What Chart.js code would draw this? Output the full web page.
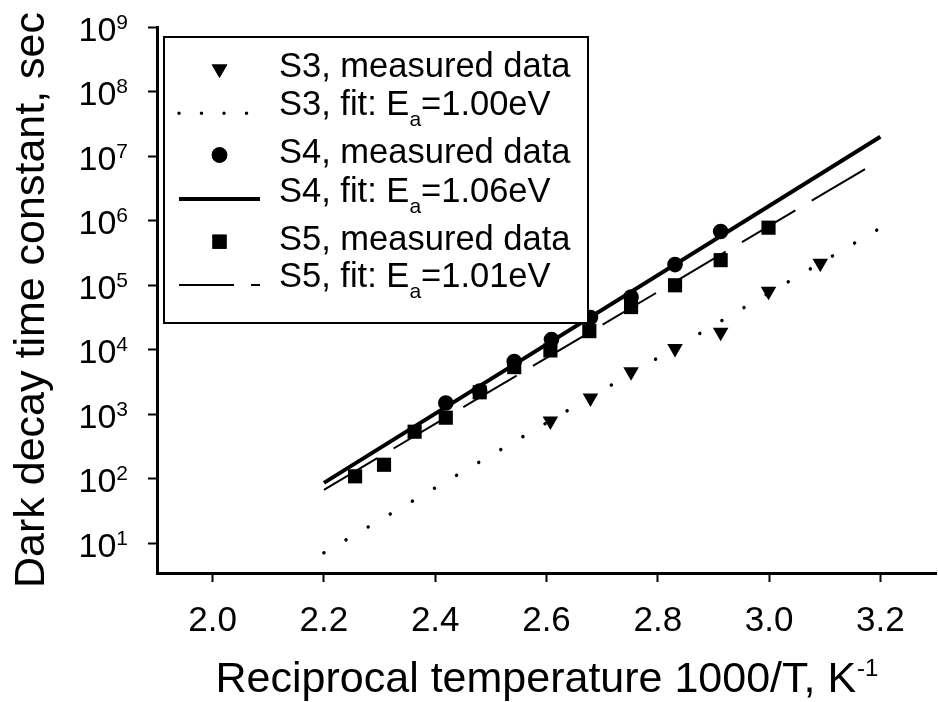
<!DOCTYPE html>
<html>
<head>
<meta charset="utf-8">
<script src="https://cdn.jsdelivr.net/npm/chart.js@4.4.0/dist/chart.umd.min.js"></script>
<style>
  html, body { margin: 0; padding: 0; background: #fff; overflow: hidden; }
  #wrap { width: 946px; height: 702px; position: relative; }
</style>
</head>
<body>
<div id="wrap"><canvas id="arrhenius"></canvas></div>
<script>
// measured dark decay time constants (x = 1000/T in 1/K, y = tau in s)
var s3X = [2.607, 2.679, 2.752, 2.831, 2.913, 2.999, 3.092];
var s3Y = [790, 1800, 4600, 10500, 18700, 81000, 220000];
var s4X = [2.419, 2.480, 2.542, 2.609, 2.679, 2.752, 2.831, 2.913];
var s4Y = [1500, 2300, 6600, 14500, 31700, 66000, 209000, 680000];
var s5X = [2.256, 2.308, 2.363, 2.419, 2.480, 2.542, 2.607, 2.677, 2.752, 2.831, 2.913, 2.999];
var s5Y = [110, 166, 540, 890, 2200, 5400, 9800, 19500, 46000, 100000, 245000, 780000];

// Arrhenius fits, end points only
var fitX = [2.2, 3.2];
var s3Fit = [7.2, 7.7e5];
var s4Fit = [87, 2.0e7];
var s5Fit = [68, 8.7e6];

var sampleNames = ['S3', 'S4', 'S5'];
var fitEa = ['1.00', '1.06', '1.01'];

var xTicks = [2.0, 2.2, 2.4, 2.6, 2.8, 3.0, 3.2];
var yExps = [1, 2, 3, 4, 5, 6, 7, 8, 9];

var FONT = '"Liberation Sans", Arial, Helvetica, sans-serif';

function pts(xs, ys) {
  return xs.map(function (x, i) { return { x: x, y: ys[i] }; });
}

var datasets = [
  { label: 'S3, measured data', data: pts(s3X, s3Y), pointStyle: 'triangle', rotation: 180,
    pointRadius: 9, backgroundColor: '#000', borderWidth: 0, order: 0 },
  { label: 'S3, fit', data: pts(fitX, s3Fit), showLine: true, pointRadius: 0, borderColor: '#000',
    borderWidth: 3.5, borderDash: [0.001, 25.6], borderCapStyle: 'round', order: 1,
    legendDash: [0.001, 22.5] },
  { label: 'S4, measured data', data: pts(s4X, s4Y), pointStyle: 'circle',
    pointRadius: 7.8, backgroundColor: '#000', borderWidth: 0, order: 0 },
  { label: 'S4, fit', data: pts(fitX, s4Fit), showLine: true, pointRadius: 0, borderColor: '#000',
    borderWidth: 4, order: 1, legendDash: [] },
  { label: 'S5, measured data', data: pts(s5X, s5Y), pointStyle: 'rect',
    pointRadius: 10, backgroundColor: '#000', borderWidth: 0, order: 0 },
  { label: 'S5, fit', data: pts(fitX, s5Fit), showLine: true, pointRadius: 0, borderColor: '#000',
    borderWidth: 2, borderDash: [62, 19], order: 1, legendDash: [55, 17] }
];

// legend, tick labels and axis titles (need sub/superscripts)
var textPlugin = {
  id: 'textPlugin',
  afterDraw: function (chart) {
    var ctx = chart.ctx;
    var xs = chart.scales.x, ys = chart.scales.y;
    ctx.save();
    ctx.fillStyle = '#000';
    ctx.textAlign = 'left';
    ctx.textBaseline = 'alphabetic';

    // x tick labels
    ctx.font = '35px ' + FONT;
    ctx.textAlign = 'center';
    xTicks.forEach(function (v) {
      ctx.fillText(v.toFixed(1), xs.getPixelForValue(v), 631);
    });

    // y tick labels 10^n
    yExps.forEach(function (e) {
      var py = ys.getPixelForValue(Math.pow(10, e));
      ctx.font = '21px ' + FONT;
      var ws = ctx.measureText(String(e)).width;
      ctx.textAlign = 'left';
      ctx.fillText(String(e), 128 - ws, py + 1.5);
      ctx.font = '34px ' + FONT;
      ctx.textAlign = 'right';
      ctx.fillText('10', 128 - ws, py + 13.5);
    });

    // x title
    ctx.textAlign = 'left';
    ctx.font = '43px ' + FONT;
    var main = 'Reciprocal temperature 1000/T, K';
    var wm = ctx.measureText(main).width;
    ctx.font = '24px ' + FONT;
    var wsup = ctx.measureText('-1').width;
    var x0 = (chart.chartArea.left + chart.chartArea.right) / 2 - (wm + wsup) / 2;
    ctx.font = '43px ' + FONT;
    ctx.fillText(main, x0, 692);
    ctx.font = '24px ' + FONT;
    ctx.fillText('-1', x0 + wm + 1, 676);

    // y title
    ctx.save();
    ctx.translate(44, (chart.chartArea.top + chart.chartArea.bottom) / 2);
    ctx.rotate(-Math.PI / 2);
    ctx.textAlign = 'center';
    ctx.font = '43px ' + FONT;
    ctx.fillText('Dark decay time constant, sec', 0, 0);
    ctx.restore();

    // legend box
    var L = 164, T = 37, R = 588, B = 323;
    ctx.fillStyle = '#fff';
    ctx.fillRect(L, T, R - L, B - T);
    ctx.strokeStyle = '#000';
    ctx.lineWidth = 2;
    ctx.strokeRect(L, T, R - L, B - T);
    ctx.fillStyle = '#000';

    var textY = [76.7, 115, 163.3, 201.7, 250, 286.7];
    var symY = [69, 113.3, 155, 199, 241.7, 285];
    chart.data.datasets.forEach(function (ds, i) {
      var k = Math.floor(i / 2);
      if (ds.showLine) {
        ctx.save();
        ctx.lineWidth = ds.borderWidth;
        ctx.lineCap = ds.borderCapStyle || 'butt';
        ctx.setLineDash(ds.legendDash);
        ctx.beginPath();
        ctx.moveTo(179, symY[i]);
        ctx.lineTo(260, symY[i]);
        ctx.stroke();
        ctx.restore();
        ctx.textAlign = 'left';
        ctx.font = '34.5px ' + FONT;
        var t1 = sampleNames[k] + ', fit: E';
        ctx.fillText(t1, 279, textY[i]);
        var w1 = ctx.measureText(t1).width;
        ctx.font = '21px ' + FONT;
        ctx.fillText('a', 279 + w1, textY[i] + 11);
        var w2 = ctx.measureText('a').width;
        ctx.font = '34.5px ' + FONT;
        ctx.fillText('=' + fitEa[k] + 'eV', 279 + w1 + w2, textY[i]);
      } else {
        Chart.helpers.drawPoint(ctx, {
          pointStyle: ds.pointStyle, rotation: ds.rotation || 0,
          radius: ds.pointRadius, borderWidth: 0
        }, 219.5, symY[i]);
        ctx.fillStyle = '#000';
        ctx.fill();
        ctx.textAlign = 'left';
        ctx.font = '34.5px ' + FONT;
        ctx.fillText(ds.label, 279, textY[i]);
      }
    });
    ctx.restore();
  }
};

var ctx = document.getElementById('arrhenius').getContext('2d');
var chart = new Chart(ctx, {
  type: 'scatter',
  data: { datasets: datasets },
  options: {
    responsive: true,
    maintainAspectRatio: false,
    animation: false,
    events: [],
    layout: { padding: { top: 27, right: 0, left: 0, bottom: 0 } },
    plugins: { legend: { display: false }, tooltip: { enabled: false } },
    scales: {
      x: {
        type: 'linear',
        min: 1.9,
        max: 3.3,
        afterBuildTicks: function (scale) {
          scale.ticks = xTicks.map(function (v) { return { value: v }; });
        },
        afterFit: function (scale) { scale.height = 129; },
        ticks: { display: false },
        grid: { drawOnChartArea: false, drawTicks: true, tickLength: 9, tickWidth: 2, tickColor: '#000' },
        border: { display: true, color: '#000', width: 3 }
      },
      y: {
        type: 'logarithmic',
        min: 3.5,
        max: 1e9,
        afterBuildTicks: function (scale) {
          scale.ticks = yExps.map(function (e) { return { value: Math.pow(10, e) }; });
        },
        afterFit: function (scale) { scale.width = 157; },
        ticks: { display: false },
        grid: { drawOnChartArea: false, drawTicks: true, tickLength: 9, tickWidth: 2, tickColor: '#000' },
        border: { display: true, color: '#000', width: 3 }
      }
    }
  },
  plugins: [textPlugin]
});
</script>
</body>
</html>
